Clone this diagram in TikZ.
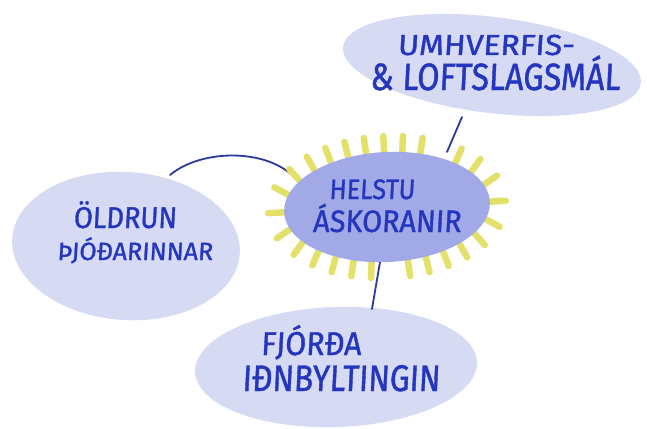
\documentclass[tikz,border=0pt]{standalone}
\usepackage{fontspec}
\setmainfont{Fira Sans}[FakeSlant=0.06,FakeBold=1.2]
\usetikzlibrary{shapes.geometric,decorations.markings}
\definecolor{bubblefill}{HTML}{D6DAF3}
\definecolor{corefill}{HTML}{A2A9E7}
\definecolor{rayfill}{HTML}{E3E16A}
\definecolor{ink}{HTML}{2436BE}
\definecolor{wirecol}{HTML}{2A3A9E}
\newcommand{\handtext}[3]{\fontsize{#1}{#1}\selectfont\scalebox{#2}[1]{#3}}
\begin{document}
\begin{tikzpicture}[x=1pt,y=1pt,
  bubble/.style={ellipse, fill=bubblefill, inner sep=0pt},
  hand/.style={text=ink, inner sep=0pt, anchor=base},
  wire/.style={draw=wirecol, line width=1.8pt, line cap=round},
  rayline/.style={draw=rayfill, line width=6.5pt, line cap=round}]
\useasboundingbox (0,0) rectangle (647,-428);
\fill[white] (0,0) rectangle (647,-428);

% outer bubbles
\node[bubble, minimum width=300pt, minimum height=96pt, rotate=-7] (env) at (492,-65) {};
\node[bubble, minimum width=228pt, minimum height=148pt, rotate=-4] (age) at (126,-246) {};
\node[bubble, minimum width=282pt, minimum height=120pt, rotate=2] (ind) at (336,-367) {};

% connector end points
\coordinate (envEnd) at (462,-117);
\coordinate (coreTop) at (447,-152);
\coordinate (coreBot) at (380,-262);
\coordinate (indTop) at (372,-309);
\coordinate (ageTop) at (170,-175);
\coordinate (coreLeft) at (292,-175);

\draw[wire] (coreTop) -- (envEnd);
\draw[wire] (coreBot) -- (indTop);
\draw[wire] (ageTop) .. controls (200,-150) and (262,-148) .. (coreLeft);

% rays
\path[rotate around={3:(387,-207)}, postaction={decorate},
  decoration={markings, mark=between positions 0 and 0.99 step 0.0357 with {%
    \pgfkeysgetvalue{/pgf/decoration/mark info/sequence number}\seqno
    \ifnum\seqno=5\relax\else\ifnum\seqno=22\relax\else
    \draw[rayline] (0,3pt) -- (0,-16pt);\fi\fi}}]
  (387,-207) ellipse [x radius=103, y radius=55];

% core
\node[ellipse, fill=corefill, inner sep=0pt, minimum width=206pt, minimum height=110pt, rotate=3] (core) at (387,-207) {};

% texts
\node[hand] (t1) at (372,-199) {\handtext{28}{0.9}{HELSTU}};
\node[hand] (t2) at (387,-232) {\handtext{31}{0.93}{ÁSKORANIR}};
\node[hand] (t3) at (486,-55) {\handtext{29}{1.1}{UMHVERFIS-}};
\node[hand] (t4) at (495,-90) {\handtext{38}{0.85}{\& LOFTSLAGSMÁL}};
\node[hand] (t5) at (125,-228) {\handtext{30}{0.91}{ÖLDRUN}};
\node[hand] (t6) at (135,-260) {\handtext{25}{1.0}{ÞJÓÐARINNAR}};
\node[hand] (t7) at (311,-355) {\handtext{33}{0.92}{FJÓRÐA}};
\node[hand] (t8) at (341,-391) {\handtext{37}{0.85}{IÐNBYLTINGIN}};
\end{tikzpicture}
\end{document}
